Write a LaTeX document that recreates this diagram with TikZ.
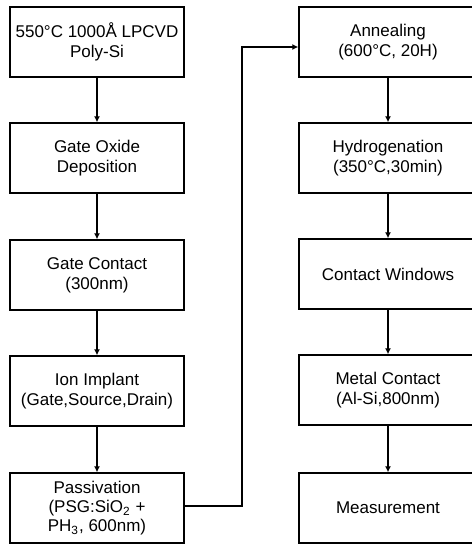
\documentclass[tikz,border=0pt]{standalone}
\usepackage{fontspec}
\setmainfont{Liberation Sans}
\usetikzlibrary{arrows.meta,calc,positioning}
\tikzset{
  step-l/.style={draw,rectangle,minimum width=87pt,minimum height=35pt,inner sep=0pt,line width=0.7pt,align=center,font=\fontsize{8.5}{10}\selectfont},
  step-r/.style={step-l,minimum width=89pt},
  flow/.style={-{Latex[length=3pt,width=3pt]},line width=0.6pt},
}

\begin{document}
\begin{tikzpicture}[x=0.5pt,y=-0.5pt]

  \useasboundingbox (0,0) rectangle (471,545);

  % COLUMN 1: poly-Si to passivation
  \node[step-l] (poly)    at (97, 42)  {550\textdegree C 1000Å LPCVD\\Poly-Si};
  \node[step-l] (oxide)   at (97, 158) {Gate Oxide\\Deposition};
  \node[step-l] (gate)    at (97, 275) {Gate Contact\\(300nm)};
  \node[step-l] (implant) at (97, 391) {Ion Implant\\(Gate,Source,Drain)};
  \node[step-l,font=\fontsize{8.5}{9.4}\selectfont] (pass) at (97, 508) {Passivation\\(PSG:SiO\textsubscript{2} +\\PH\textsubscript{3}, 600nm)};
  \draw[flow] (poly)    -- (oxide);
  \draw[flow] (oxide)   -- (gate);
  \draw[flow] (gate)    -- (implant);
  \draw[flow] (implant) -- (pass);

  % COLUMN 2: annealing to measurement
  \node[step-r] (anneal)  at (388, 42)  {Annealing\\(600\textdegree C, 20H)};
  \node[step-r] (hydro)   at (388, 158) {Hydrogenation\\(350\textdegree C,30min)};
  \node[step-r] (window)  at (388, 274) {Contact Windows};
  \node[step-r] (metal)   at (388, 390) {Metal Contact\\(Al-Si,800nm)};
  \node[step-r] (meas)    at (388, 508) {Measurement};
  \draw[flow] (anneal) -- (hydro);
  \draw[flow] (hydro)  -- (window);
  \draw[flow] (window) -- (metal);
  \draw[flow] (metal)  -- (meas);

  % link between the columns
  \coordinate (turn) at (242, 47);
  \draw[flow] ([yshift=1pt]pass.east) -| (turn) -- (turn -| anneal.west);

\end{tikzpicture}
\end{document}
